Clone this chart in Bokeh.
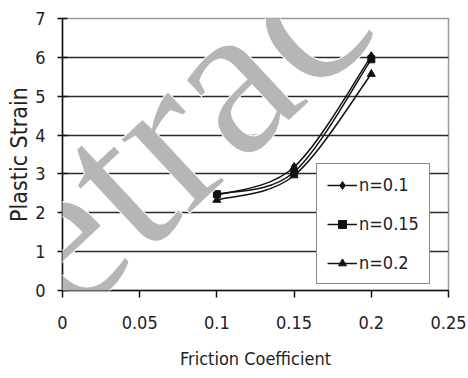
from bokeh.plotting import figure
from bokeh.models import (Legend, LegendItem, FixedTicker, Label, ColumnDataSource)
from bokeh.embed import file_html
from bokeh.resources import INLINE

# ---- data ----
friction = [0.1, 0.15, 0.2]
strain_n010 = [2.45, 3.18, 6.03]
strain_n015 = [2.48, 3.05, 5.95]
strain_n020 = [2.33, 2.96, 5.57]
series_names = ["n=0.1", "n=0.15", "n=0.2"]
x_ticks = [0, 0.05, 0.1, 0.15, 0.2, 0.25]
x_tick_labels = ["0", "0.05", "0.1", "0.15", "0.2", "0.25"]
y_ticks = [0, 1, 2, 3, 4, 5, 6, 7]
grid_ticks = [1, 2, 3, 4, 5, 6]

FONT = "'DejaVu Sans Condensed', 'Liberation Sans Narrow', 'Liberation Sans', sans-serif"

p = figure(width=468, height=378, output_backend="svg", toolbar_location=None,
           x_range=(0, 0.25), y_range=(0, 7),
           min_border_left=62, min_border_right=20, min_border_top=18, min_border_bottom=88)
p.background_fill_color = "white"
p.border_fill_color = "white"
p.outline_line_color = "#9a9a9a"
p.outline_line_width = 1.5

# axes
p.xaxis.ticker = FixedTicker(ticks=x_ticks)
p.xaxis.major_label_overrides = {t: l for t, l in zip(x_ticks, x_tick_labels)}
p.yaxis.ticker = FixedTicker(ticks=y_ticks)
for ax in (p.xaxis[0], p.yaxis[0]):
    ax.axis_line_color = "#111111"
    ax.axis_line_width = 1.5
    ax.major_tick_line_color = "#111111"
    ax.major_tick_line_width = 1.5
    ax.minor_tick_line_color = None
    ax.major_label_text_font = FONT
    ax.major_label_text_color = "#222222"
    ax.axis_label_text_font = FONT
    ax.axis_label_text_font_style = "normal"
    ax.axis_label_text_color = "#222222"
p.xaxis.major_tick_in = 0
p.xaxis.major_tick_out = 7
p.yaxis.major_tick_in = 5
p.yaxis.major_tick_out = 5
p.xaxis.major_label_text_font_size = "18px"
p.yaxis.major_label_text_font_size = "18px"
p.xaxis.major_label_standoff = 18
p.yaxis.major_label_standoff = 12
p.xaxis.axis_label = "Friction Coefficient"
p.yaxis.axis_label = "Plastic Strain"
p.xaxis.axis_label_text_font_size = "18px"
p.yaxis.axis_label_text_font_size = "23px"
p.xaxis.axis_label_standoff = 16
p.yaxis.axis_label_standoff = 0

p.xgrid.grid_line_color = None
p.ygrid.ticker = FixedTicker(ticks=grid_ticks)
p.ygrid.grid_line_color = "#2a2a2a"
p.ygrid.grid_line_width = 1.5

markers = ["diamond", "square", "triangle"]
sizes = [9, 7, 8]
all_series = [strain_n010, strain_n015, strain_n020]
items = []
for name, ys, mk, sz in zip(series_names, all_series, markers, sizes):
    # smoothed connecting curve (Catmull-Rom as cubic Bezier), like Excel smoothed lines
    pts = list(zip(friction, ys))
    ext = [pts[0]] + pts + [pts[-1]]
    x0, y0, x1, y1, cx0, cy0, cx1, cy1 = [], [], [], [], [], [], [], []
    for i in range(1, len(ext) - 2):
        pm, pa, pb, pp = ext[i - 1], ext[i], ext[i + 1], ext[i + 2]
        x0.append(pa[0]); y0.append(pa[1]); x1.append(pb[0]); y1.append(pb[1])
        cx0.append(pa[0] + (pb[0] - pm[0]) / 6); cy0.append(pa[1] + (pb[1] - pm[1]) / 6)
        cx1.append(pb[0] - (pp[0] - pa[0]) / 6); cy1.append(pb[1] - (pp[1] - pa[1]) / 6)
    src = ColumnDataSource(dict(x0=x0, y0=y0, x1=x1, y1=y1, cx0=cx0, cy0=cy0, cx1=cx1, cy1=cy1))
    r_line = p.bezier(x0="x0", y0="y0", x1="x1", y1="y1", cx0="cx0", cy0="cy0",
                      cx1="cx1", cy1="cy1", source=src, line_color="#111111", line_width=1.5)
    r_pt = p.scatter(friction, ys, marker=mk, size=sz, fill_color="#111111", line_color="#111111")
    items.append(LegendItem(label=name, renderers=[r_line, r_pt]))

legend = Legend(items=items, location=(254, 6), orientation="vertical")
legend.label_text_font = FONT
legend.label_text_font_size = "18px"
legend.label_text_color = "#222222"
legend.glyph_width = 30
legend.glyph_height = 20
legend.label_height = 20
legend.label_standoff = 2
legend.spacing = 18
legend.padding = 10
legend.margin = 0
legend.border_line_color = "#111111"
legend.border_line_width = 1.5
legend.background_fill_color = "white"
legend.background_fill_alpha = 1.0
p.add_layout(legend)

# watermark stamp over the figure
wm = Label(x=-150, y=-80, x_units="screen", y_units="screen", text="Retracted",
           angle=43, angle_units="deg", text_font="Liberation Serif",
           text_font_size="220px", text_color="#b8b6b5", text_align="left",
           text_baseline="alphabetic", level="overlay")
wm.text_outline_color = "white"
p.add_layout(wm)

open("out.html", "w").write(file_html(p, INLINE))
